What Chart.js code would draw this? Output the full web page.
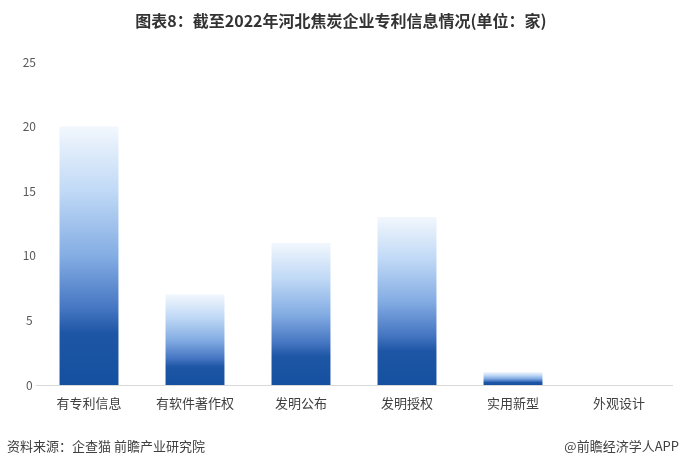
<!DOCTYPE html>
<html>
<head>
<meta charset="utf-8">
<script src="https://cdn.jsdelivr.net/npm/chart.js@4/dist/chart.umd.min.js"></script>
<style>
html,body{margin:0;padding:0;background:#fff;}
#c{display:block;}
</style>
</head>
<body>
<canvas id="c" width="680" height="470"></canvas>
<script>
const categories = ['有专利信息','有软件著作权','发明公布','发明授权','实用新型','外观设计'];
const values = [20, 7, 11, 13, 1, 0];
const yTicks = [0, 5, 10, 15, 20, 25];
const titleText = '图表8：截至2022年河北焦炭企业专利信息情况(单位：家)';
const sourceText = '资料来源：企查猫 前瞻产业研究院';
const brandText = '@前瞻经济学人APP';

const FONT = "'Noto Sans CJK SC', 'Noto Sans', sans-serif";

function barGradient(ctx) {
  const chart = ctx.chart;
  if (!chart.chartArea) return '#1550a0';
  const ys = chart.scales.y;
  const top = ys.getPixelForValue(ctx.raw);
  const bot = ys.getPixelForValue(0);
  if (bot - top < 0.5) return 'rgba(0,0,0,0)';
  const g = chart.ctx.createLinearGradient(0, top, 0, bot);
  g.addColorStop(0, '#f2f7fd');
  g.addColorStop(0.25, '#c0d9f6');
  g.addColorStop(0.5, '#84ade3');
  g.addColorStop(0.7, '#4777c3');
  g.addColorStop(0.8, '#1d56a5');
  g.addColorStop(1, '#1550a0');
  return g;
}

const textPlugin = {
  id: 'texts',
  afterDraw(chart) {
    const c = chart.ctx;
    c.save();
    c.fillStyle = '#333333';
    c.font = "bold 16px " + FONT;
    c.textAlign = 'center';
    c.textBaseline = 'middle';
    c.fillText(titleText, 341, 21);
    c.font = "13px " + FONT;
    c.fillStyle = '#404040';
    c.textAlign = 'left';
    c.fillText(sourceText, 7, 446);
    c.textAlign = 'right';
    c.fillText(brandText, 679, 446);
    c.restore();
  }
};

new Chart(document.getElementById('c'), {
  type: 'bar',
  data: {
    labels: categories,
    datasets: [{
      data: values,
      backgroundColor: barGradient,
      borderWidth: 0,
      categoryPercentage: 1,
      barPercentage: 0.556
    }]
  },
  options: {
    responsive: false,
    animation: false,
    devicePixelRatio: 1,
    layout: { padding: { left: 0, right: 8, top: 62, bottom: 55 } },
    plugins: {
      legend: { display: false },
      tooltip: { enabled: false },
      title: { display: false }
    },
    scales: {
      x: {
        grid: { display: false, drawTicks: false },
        border: { display: true, color: '#d9d9d9', width: 1 },
        ticks: { color: '#404040', font: { family: FONT, size: 13 }, padding: 10, maxRotation: 0 },
        afterFit(s) { s.height = 30; }
      },
      y: {
        min: 0, max: 25,
        afterBuildTicks(s) { s.ticks = yTicks.map(v => ({ value: v })); },
        grid: { display: false, drawTicks: false },
        border: { display: false },
        ticks: { color: '#595959', font: { family: FONT, size: 12 }, crossAlign: 'center', padding: 0 },
        afterFit(s) { s.width = 36; }
      }
    }
  },
  plugins: [textPlugin]
});
</script>
</body>
</html>
